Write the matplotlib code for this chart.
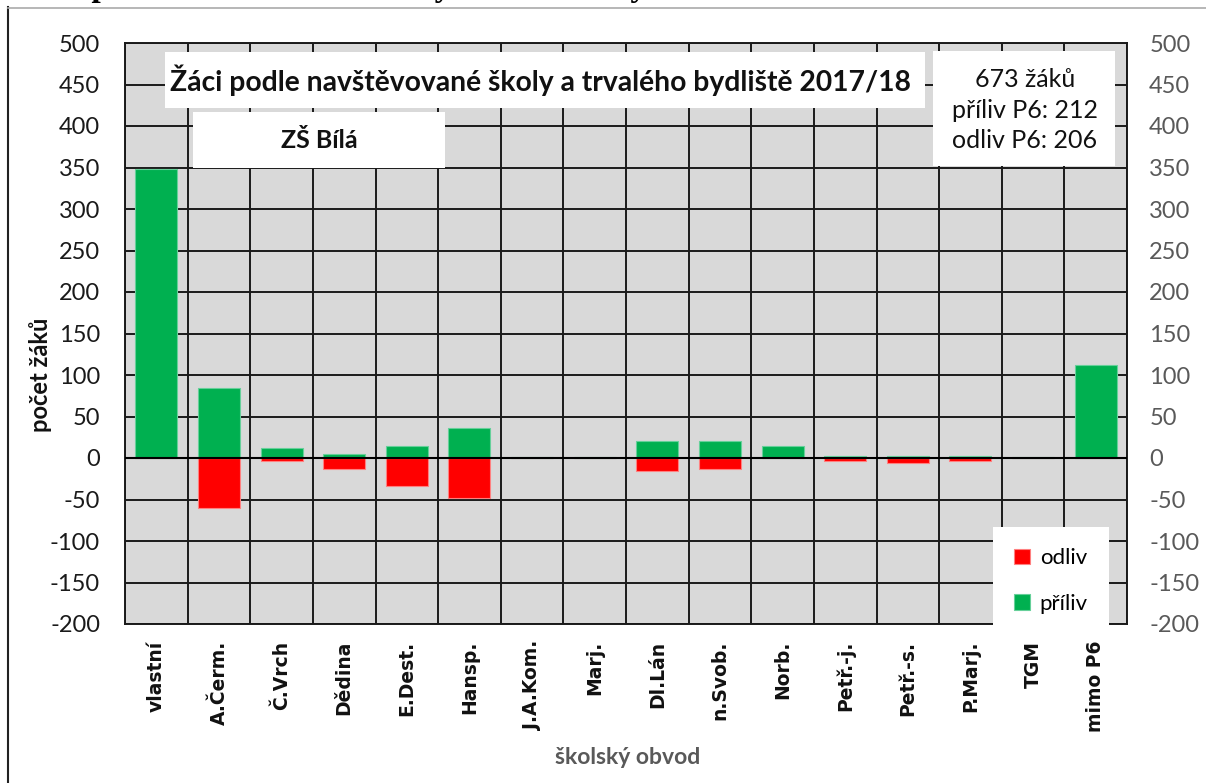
import matplotlib
matplotlib.use("Agg")
import matplotlib.pyplot as plt
import numpy as np
from matplotlib.patches import Rectangle
from matplotlib.lines import Line2D

plt.rcParams["axes.unicode_minus"] = False

# === DATA ===
obvody = ["vlastní", "A.Čerm.", "Č.Vrch", "Dědina", "E.Dest.", "Hansp.", "J.A.Kom.",
          "Marj.", "Dl.Lán", "n.Svob.", "Norb.", "Petř.-j.", "Petř.-s.", "P.Marj.",
          "TGM", "mimo P6"]
priliv = [348, 84, 12, 5, 14, 36, 1, 1, 20, 21, 14, 2, 2, 2, 1, 112]
odliv = [0, -60, -4, -13, -34, -48, 0, 0, -16, -13, 0, -4, -6, -4, 0, 0]
y_ticks = list(range(-200, 501, 50))

nadpis = "Žáci podle navštěvované školy a trvalého bydliště 2017/18"
skola = "ZŠ Bílá"
info = "673 žáků\npříliv P6: 212\nodliv P6: 206"
horni_text = "Žáci podle navštěvované školy a trvalého bydliště"

W, H = 1206, 783
ZELENA = "#00B050"
CERVENA = "#FF0000"
SANS = ["Lato", "DejaVu Sans"]


def fx(px):
    return px / W


def fy(py):
    return 1 - py / H


fig = plt.figure(figsize=(W / 100, H / 100), dpi=100)
ax = fig.add_axes([fx(125), fy(624), fx(1127) - fx(125), fy(43) - fy(624)])
ax.set_facecolor("#D9D9D9")

x = np.arange(len(obvody))
b_odliv = ax.bar(x, odliv, width=0.67, color=CERVENA, edgecolor="#FF8080",
                 linewidth=0.8, zorder=3, label="odliv")
b_priliv = ax.bar(x, priliv, width=0.67, color=ZELENA, edgecolor="#66D09A",
                  linewidth=0.8, zorder=3, label="příliv")
ax.axhline(0, color="black", linewidth=1.5, zorder=4)

ax.set_xlim(-0.5, len(obvody) - 0.5)
ax.set_ylim(-200, 500)
ax.set_yticks(y_ticks)
ax.set_xticks(x)
ax.set_xticks(np.arange(-0.5, len(obvody), 1), minor=True)
ax.grid(True, axis="y", which="major", color="#1a1a1a", linewidth=1.4, zorder=1)
ax.grid(True, axis="x", which="minor", color="#1a1a1a", linewidth=1.4, zorder=1)
ax.grid(False, axis="x", which="major")
ax.set_axisbelow(True)
for s in ax.spines.values():
    s.set_color("#1a1a1a")
    s.set_linewidth(1.4)

ax.set_xticklabels(obvody, rotation=90, family="DejaVu Sans", fontweight="bold",
                   fontsize=13.5, color="#111111")
ax.tick_params(axis="x", which="both", length=0, pad=12)
ax.tick_params(axis="y", length=0, pad=18, labelsize=17, labelcolor="#1a1a1a")
for t in ax.get_yticklabels():
    t.set_family(SANS)

ax2 = ax.twinx()
ax2.set_ylim(ax.get_ylim())
ax2.set_yticks(y_ticks)
ax2.tick_params(axis="y", length=0, pad=16, labelsize=17, labelcolor="#595959")
for t in ax2.get_yticklabels():
    t.set_family(SANS)
for s in ax2.spines.values():
    s.set_visible(False)

fig.text(fx(40), fy(375), "počet žáků", rotation=90, ha="center", va="center",
         fontsize=17, fontweight="bold", family=SANS, color="#111111")
fig.text(fx(628), fy(757), "školský obvod", ha="center", va="center",
         fontsize=16.5, fontweight="bold", family=SANS, color="#595959")

# boxes with titles
def box(x0, y0, x1, y1):
    fig.add_artist(Rectangle((fx(x0), fy(y1)), fx(x1) - fx(x0), fy(y0) - fy(y1),
                             transform=fig.transFigure, facecolor="white",
                             edgecolor="none", zorder=5))

box(165, 52, 925, 108)
fig.text(fx(541), fy(80), nadpis, ha="center", va="center", fontsize=20.3,
         fontweight="bold", family=SANS, color="#111111", zorder=6)
box(193, 112, 445, 168)
fig.text(fx(319), fy(141), skola, ha="center", va="center", fontsize=18,
         fontweight="bold", family=SANS, color="#111111", zorder=6)
box(933, 51, 1115, 166)
fig.text(fx(1025), fy(110), info, ha="center", va="center", fontsize=18,
         family=SANS, color="#111111", linespacing=1.38, zorder=6)

leg = ax.legend(handles=[b_odliv, b_priliv], loc="upper left",
                bbox_to_anchor=(fx(993), fy(527)), bbox_transform=fig.transFigure,
                frameon=True, fancybox=False, edgecolor="none", framealpha=1,
                handlelength=0.7, handleheight=0.7, handletextpad=0.45,
                labelspacing=1.15, borderpad=0.95, borderaxespad=0,
                prop={"family": SANS, "size": 16})
leg.set_zorder(6)

# frame of the page and clipped heading above
fig.add_artist(Line2D([fx(7.5), fx(7.5)], [0, fy(7)], transform=fig.transFigure,
                      color="#222222", linewidth=1.5))
fig.add_artist(Line2D([fx(7.5), 1], [fy(7.5), fy(7.5)], transform=fig.transFigure,
                      color="#aaaaaa", linewidth=1.2))
fig.text(fx(20), 1 + 4.0 / H, horni_text, ha="left", va="baseline",
         fontsize=24, fontweight="bold", family=["Liberation Serif", "DejaVu Serif"],
         color="black")

fig.savefig("out.png", dpi=100)
